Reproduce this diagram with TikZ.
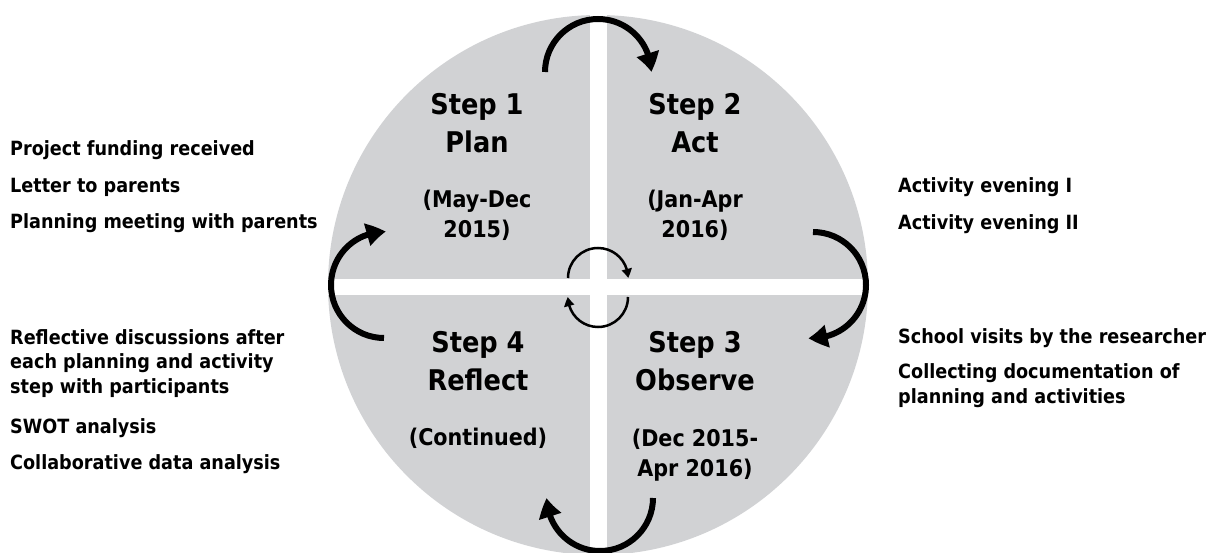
\documentclass[tikz,border=0pt]{standalone}
\usepackage{fontspec}
\setmainfont{DejaVu Sans Condensed}
\usetikzlibrary{arrows.meta,bending}
\definecolor{circgray}{RGB}{209,210,212}
\tikzset{
  bigarrow/.style={line width=6pt,-{Triangle[length=19pt,width=22pt,bend]}},
  smallarrow/.style={line width=2.5pt,-{Triangle[length=9pt,width=10pt,bend]}},
  steptitle/.style={anchor=base,align=center,inner sep=0pt,font=\bfseries\fontsize{28.5}{38}\selectfont},
  stepdate/.style={anchor=base,align=center,inner sep=0pt,font=\bfseries\fontsize{23}{30}\selectfont},
  item/.style={anchor=base west,align=left,inner sep=0pt,font=\bfseries\fontsize{19.6}{24.5}\selectfont}
}
\begin{document}
\begin{tikzpicture}[x=1pt,y=1pt]
\useasboundingbox (0,0) rectangle (1212,552);
% disc and white cross
\fill[circgray] (598,267) circle[radius=270pt];
\fill[white] (590,0) rectangle (607,552);
\fill[white] (320,257) rectangle (880,273);
% quadrant titles (base = baseline of the last line)
\node[steptitle] (s1) at (477,399) {Step 1\\Plan};
\node[stepdate]  (d1) at (477,314) {(May-Dec\\2015)};
\node[steptitle] (s2) at (695,399) {Step 2\\Act};
\node[stepdate]  (d2) at (695,314) {(Jan-Apr\\2016)};
\node[steptitle] (s4) at (478,162) {Step 4\\Reflect};
\node[stepdate]  (d4) at (478,107) {(Continued)};
\node[steptitle] (s3) at (695,162) {Step 3\\Observe};
\node[stepdate]  (d3) at (695,76) {(Dec 2015-\\Apr 2016)};
% big cycle arrows
\coordinate (a1) at (545,480);
\coordinate (a2) at (813,320);
\coordinate (a3) at (653,54);
\coordinate (a4) at (384,214);
\draw[bigarrow] (a1) arc[start angle=180,end angle=0,radius=53pt];
\draw[bigarrow] (a2) arc[start angle=90,end angle=-95,radius=53pt];
\draw[bigarrow] (a3) arc[start angle=0,end angle=-180,radius=53pt];
\draw[bigarrow] (a4) arc[start angle=-90,end angle=-272,radius=53pt];
% small centre arrows
\coordinate (c1) at (568,274);
\coordinate (c2) at (628,255);
\draw[smallarrow] (c1) arc[start angle=180,end angle=0,radius=30pt];
\draw[smallarrow] (c2) arc[start angle=0,end angle=-180,radius=30pt];
% left lists
\node[item] (l1) at (10,396) {Project funding received};
\node[item] (l2) at (10,359) {Letter to parents};
\node[item] (l3) at (10,323) {Planning meeting with parents};
\node[item] (l4) at (10,159) {Reflective discussions after\\each planning and activity\\step with participants};
\node[item] (l5) at (10,119) {SWOT analysis};
\node[item] (l6) at (10,83)  {Collaborative data analysis};
% right lists
\node[item] (r1) at (898,359) {Activity evening I};
\node[item] (r2) at (898,322) {Activity evening II};
\node[item] (r3) at (898,209) {School visits by the researcher};
\node[item] (r4) at (898,149) {Collecting documentation of\\planning and activities};
\end{tikzpicture}
\end{document}
